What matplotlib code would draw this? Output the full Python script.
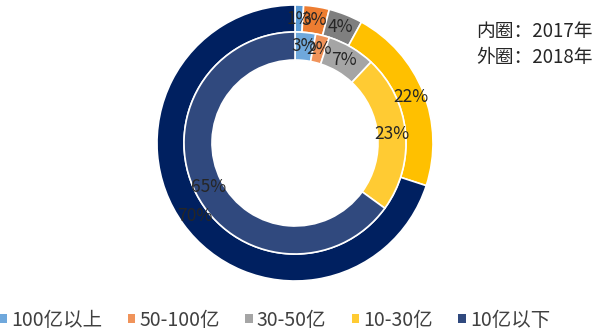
import numpy as np
import matplotlib
matplotlib.use('Agg')
import matplotlib.pyplot as plt
from matplotlib.patches import Patch

plt.rcParams['font.family'] = ['Noto Sans CJK SC', 'DejaVu Sans']

categories = ['100亿以上', '50-100亿', '30-50亿', '10-30亿', '10亿以下']
inner_2017 = [3, 2, 7, 23, 65]
outer_2018 = [1, 3, 4, 22, 70]

outer_colors = ['#5B9BD5', '#ED7D31', '#7F7F7F', '#FFC000', '#002060']
inner_colors = ['#6FA8DC', '#F0935A', '#A5A5A5', '#FFCB33', '#30497E']
legend_colors = ['#6FA8DC', '#F0935A', '#A5A5A5', '#FFCB33', '#30497E']

fig = plt.figure(figsize=(6, 3.32), dpi=100)
ax = fig.add_axes([157/600, 51/332, 276/600, 276/332])

r_out = 1.0
r_mid = 111/138
r_in = 83/138

wo, _ = ax.pie(outer_2018, radius=r_out, colors=outer_colors, startangle=90,
               counterclock=False,
               wedgeprops=dict(width=r_out - r_mid, edgecolor='white', linewidth=1.2))
wi, _ = ax.pie(inner_2017, radius=r_mid, colors=inner_colors, startangle=90,
               counterclock=False,
               wedgeprops=dict(width=r_mid - r_in, edgecolor='white', linewidth=1.2))

# labels sit in the middle of each ring, like the excel original (they overlap there too)
def put_labels(wedges, vals, r):
    for w, v in zip(wedges, vals):
        ang = np.deg2rad((w.theta1 + w.theta2) / 2)
        ax.text(r*np.cos(ang), r*np.sin(ang), f'{v}%', ha='center', va='center',
                fontsize=12.5, color='#262626')

put_labels(wo, outer_2018, (r_out + r_mid) / 2)
put_labels(wi, inner_2017, (r_mid + r_in) / 2)

ax.set_xlim(-1, 1)
ax.set_ylim(-1, 1)
ax.set_aspect('equal')

fig.text(476/600, 1 - 31/332, '内圈：2017年', fontsize=13.5, color='#262626', va='center')
fig.text(476/600, 1 - 58/332, '外圈：2018年', fontsize=13.5, color='#262626', va='center')

handles = [Patch(facecolor=c) for c in legend_colors]
fig.legend(handles, categories, loc='center', bbox_to_anchor=(0.458, 1 - 320/332),
           ncol=5, frameon=False, fontsize=14, handlelength=0.4, handleheight=0.4,
           handletextpad=0.2, columnspacing=1.3, labelcolor='#404040')

fig.savefig('out.png', dpi=100)
